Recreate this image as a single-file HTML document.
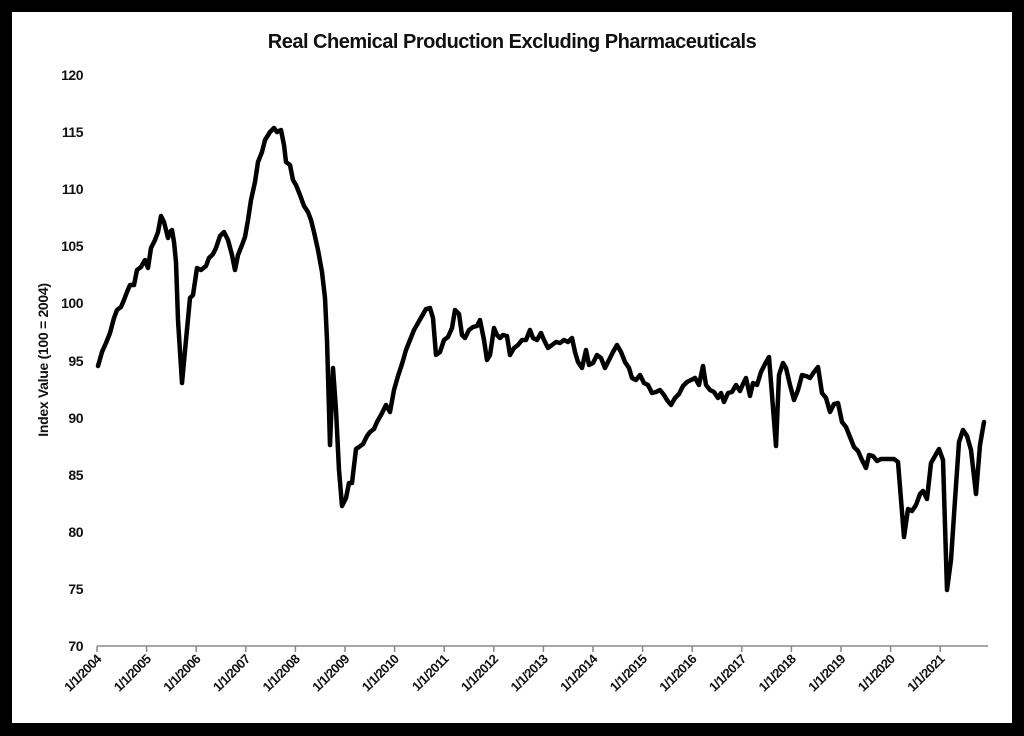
<!DOCTYPE html>
<html><head><meta charset="utf-8"><style>
html,body{margin:0;padding:0;background:#000;}
svg{display:block;font-family:"Liberation Sans",sans-serif;}
</style></head><body>
<svg width="1024" height="736" viewBox="0 0 1024 736">
<rect x="0" y="0" width="1024" height="736" fill="#000"/>
<rect x="12" y="12" width="1000" height="711" fill="#fff"/>
<text x="512" y="48" text-anchor="middle" font-size="20" font-weight="bold" fill="#111" letter-spacing="-0.5">Real Chemical Production Excluding Pharmaceuticals</text>
<text transform="translate(48,360) rotate(-90)" text-anchor="middle" font-size="14" font-weight="bold" fill="#111" letter-spacing="-0.3">Index Value (100 = 2004)</text>
<g font-size="14" font-weight="bold" fill="#111" text-anchor="end" letter-spacing="-0.5">
<text x="83" y="651">70</text><text x="83" y="594">75</text><text x="83" y="537">80</text><text x="83" y="480">85</text><text x="83" y="423">90</text><text x="83" y="366">95</text><text x="83" y="308">100</text><text x="83" y="251">105</text><text x="83" y="194">110</text><text x="83" y="137">115</text><text x="83" y="80">120</text>
</g>
<line x1="97" y1="646" x2="988" y2="646" stroke="#888" stroke-width="1.5"/>
<g stroke="#888" stroke-width="1.5">
<line x1="97" y1="646" x2="97" y2="652"/><line x1="146.6" y1="646" x2="146.6" y2="652"/><line x1="196.2" y1="646" x2="196.2" y2="652"/><line x1="245.8" y1="646" x2="245.8" y2="652"/><line x1="295.4" y1="646" x2="295.4" y2="652"/><line x1="345" y1="646" x2="345" y2="652"/><line x1="394.6" y1="646" x2="394.6" y2="652"/><line x1="444.2" y1="646" x2="444.2" y2="652"/><line x1="493.8" y1="646" x2="493.8" y2="652"/><line x1="543.4" y1="646" x2="543.4" y2="652"/><line x1="593" y1="646" x2="593" y2="652"/><line x1="642.6" y1="646" x2="642.6" y2="652"/><line x1="692.2" y1="646" x2="692.2" y2="652"/><line x1="741.8" y1="646" x2="741.8" y2="652"/><line x1="791.4" y1="646" x2="791.4" y2="652"/><line x1="841" y1="646" x2="841" y2="652"/><line x1="890.6" y1="646" x2="890.6" y2="652"/><line x1="940.2" y1="646" x2="940.2" y2="652"/>
</g>
<g font-size="13" font-weight="bold" fill="#111" text-anchor="end" letter-spacing="-0.6">
<text transform="translate(102,660) rotate(-45)">1/1/2004</text>
<text transform="translate(151.6,660) rotate(-45)">1/1/2005</text>
<text transform="translate(201.2,660) rotate(-45)">1/1/2006</text>
<text transform="translate(250.8,660) rotate(-45)">1/1/2007</text>
<text transform="translate(300.4,660) rotate(-45)">1/1/2008</text>
<text transform="translate(350,660) rotate(-45)">1/1/2009</text>
<text transform="translate(399.6,660) rotate(-45)">1/1/2010</text>
<text transform="translate(449.2,660) rotate(-45)">1/1/2011</text>
<text transform="translate(498.8,660) rotate(-45)">1/1/2012</text>
<text transform="translate(548.4,660) rotate(-45)">1/1/2013</text>
<text transform="translate(598,660) rotate(-45)">1/1/2014</text>
<text transform="translate(647.6,660) rotate(-45)">1/1/2015</text>
<text transform="translate(697.2,660) rotate(-45)">1/1/2016</text>
<text transform="translate(746.8,660) rotate(-45)">1/1/2017</text>
<text transform="translate(796.4,660) rotate(-45)">1/1/2018</text>
<text transform="translate(846,660) rotate(-45)">1/1/2019</text>
<text transform="translate(895.6,660) rotate(-45)">1/1/2020</text>
<text transform="translate(945.2,660) rotate(-45)">1/1/2021</text>
</g>
<polyline fill="none" stroke="#000" stroke-width="4.5" stroke-linejoin="round" stroke-linecap="round" points="98,366 102,352 106,343 110,333 114,318 117,310 121,307 124,300 127,292 130,285 134,285 137,270 141,267 145,260 148,268 151,248 155,240 158,232 161,216 164,222 168,238 170,232 172,230 174,242 176,262 178,320 182,383 186,340 190,298 193,295 197,268 201,270 206,266 209,258 213,254 216,248 220,236 224,232 228,240 232,255 235,270 238,255 242,245 245,237 248,220 251,200 255,182 258,162 262,152 265,140 270,132 274,128 277,132 281,130 284,145 286,162 290,165 293,180 296,185 300,195 304,206 308,212 311,220 314,232 318,250 322,272 325,298 327,340 330,445 333,368 336,410 339,470 342,506 346,498 349,483 352,483 356,449 359,447 363,444 367,436 370,432 374,429 377,422 381,415 386,405 390,412 394,390 398,376 402,364 406,350 410,340 414,330 418,323 422,316 426,309 430,308 433,318 436,355 440,352 444,340 448,337 452,328 455,310 459,314 462,335 465,338 469,330 473,327 477,326 480,320 484,340 487,360 490,355 494,328 497,335 500,338 503,335 507,336 510,355 514,348 518,345 522,340 526,340 530,330 533,338 537,340 541,333 544,340 548,348 552,345 556,342 560,343 564,340 568,342 572,338 575,352 578,362 582,368 586,350 589,365 593,363 597,355 601,358 605,368 609,360 613,352 617,345 621,352 625,362 629,368 632,378 636,380 640,375 644,383 648,385 652,393 656,392 660,390 664,395 667,400 671,405 675,398 679,394 683,386 687,382 691,380 695,378 699,385 703,366 706,385 710,390 714,392 718,398 721,393 724,402 728,393 732,392 736,385 740,391 743,384 746,378 750,396 753,383 757,385 761,372 765,364 769,357 772,395 776,446 779,375 783,363 786,368 790,385 794,400 798,390 802,375 806,376 810,378 814,372 818,367 822,393 826,398 830,412 834,404 838,403 842,422 846,427 850,437 854,447 858,451 862,460 866,468 869,455 873,456 877,461 881,459 886,459 890,459 894,459 898,462 904,537 908,509 912,511 916,505 920,494 923,491 927,499 931,463 935,456 939,449 943,460 947,590 951,560 955,500 959,442 963,430 967,436 971,450 976,494 980,445 984,422"/>
</svg>
</body></html>
